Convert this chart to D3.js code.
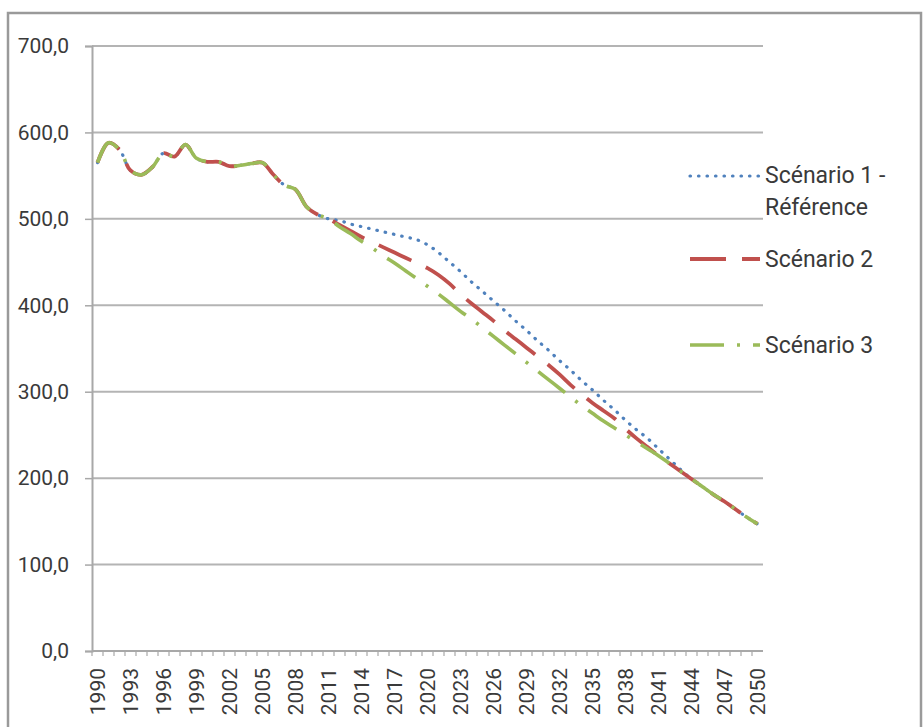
<!DOCTYPE html>
<html>
<head>
<meta charset="utf-8">
<script src="https://cdn.jsdelivr.net/npm/d3@7"></script>
<style>
  body { margin: 0; background: #fff; }
  text { font-family: Roboto, "Liberation Sans", sans-serif; fill: #3a3a3a; }
</style>
</head>
<body>
<script>
// categories
const years = [1990,1991,1992,1993,1994,1995,1996,1997,1998,1999,
               2000,2001,2002,2003,2004,2005,2006,2007,2008,2009,
               2010,2011,2012,2013,2014,2015,2016,2017,2018,2019,
               2020,2021,2022,2023,2024,2025,2026,2027,2028,2029,
               2030,2031,2032,2033,2034,2035,2036,2037,2038,2039,
               2040,2041,2042,2043,2044,2045,2046,2047,2048,2049,2050];
const yearLabels = [1990,1993,1996,1999,2002,2005,2008,2011,2014,2017,2020,
                    2023,2026,2029,2032,2035,2038,2041,2044,2047,2050];
const yTicks = [0,100,200,300,400,500,600,700];

// 1990-2010, common to all scenarios
const historique = [565,588,580,556,551,560,576,572,586,570,566,
                    566,561,562,564,565,551,539,534,514,505];
// 2011-2050
const scenario1 = [500,498,494,491,488,485,482,479,476,470,
                   461,450,439,427,416,405,394,382,371,359,
                   348,336,325,313,302,290,279,267,256,246,
                   234,222,210,199,190,181,173,164,155,147];
const scenario2 = [500,493,486,479,473,467,461,455,449,443,
                   435,425,413,402,392,382,371,361,351,341,
                   331,320,308,297,287,278,269,257,246,236,
                   226,217,208,199,190,181,173,164,155,147];
const scenario3 = [500,491,483,474,466,457,449,440,431,422,
                   413,403,393,384,374,364,354,344,334,324,
                   314,304,294,284,275,266,258,250,242,234,
                   226,217,208,199,190,181,173,164,155,147];

const seriesNames = ["Scénario 1 - Référence", "Scénario 2", "Scénario 3"];
const seriesColors = ["#4F81BD", "#C0504D", "#9BBB59"];

const w = 924;
const h = 727;
const plot = { left: 92, right: 763, top: 46, bottom: 651 };

const svg = d3.select("body")
              .append("svg")
              .attr("width", w)
              .attr("height", h);

// outer frame
svg.append("rect")
   .attr("x", 8).attr("y", 13)
   .attr("width", 913).attr("height", 730)
   .attr("fill", "none")
   .attr("stroke", "#9a9a9a")
   .attr("stroke-width", 2.5);

const x = d3.scaleBand()
            .domain(years)
            .range([plot.left, plot.right]);
const y = d3.scaleLinear()
            .domain([0, 700])
            .range([plot.bottom, plot.top]);
const cx = d => x(d) + x.bandwidth() / 2;

// gridlines
svg.append("g")
   .selectAll("line")
   .data(yTicks.filter(d => d > 0))
   .enter()
   .append("line")
   .attr("x1", plot.left).attr("x2", plot.right)
   .attr("y1", d => y(d)).attr("y2", d => y(d))
   .attr("stroke", "#b4b4b4")
   .attr("stroke-width", 2);

// y axis
const yAxis = d3.axisLeft(y)
                .tickValues(yTicks)
                .tickSize(7)
                .tickPadding(16)
                .tickFormat(d => d.toFixed(1).replace(".", ","));
const gy = svg.append("g")
              .attr("transform", "translate(" + plot.left + ",0)")
              .call(yAxis);
gy.select(".domain").attr("stroke", "#a8a8a8").attr("stroke-width", 2);
gy.selectAll(".tick line").attr("stroke", "#a8a8a8").attr("stroke-width", 1.5);
gy.selectAll(".tick text").attr("font-size", 21).attr("fill", "#3a3a3a")
  .style("font-family", "Roboto, sans-serif");

// x axis: line, ticks between categories, rotated labels
const gx = svg.append("g");
gx.append("line")
  .attr("x1", plot.left).attr("x2", plot.right)
  .attr("y1", plot.bottom).attr("y2", plot.bottom)
  .attr("stroke", "#a8a8a8").attr("stroke-width", 2);
gx.selectAll(".xtick")
  .data(years)
  .enter()
  .append("line")
  .classed("xtick", true)
  .attr("x1", d => x(d)).attr("x2", d => x(d))
  .attr("y1", plot.bottom).attr("y2", plot.bottom + 5)
  .attr("stroke", "#a8a8a8").attr("stroke-width", 1.2);
gx.selectAll(".xlabel")
  .data(yearLabels)
  .enter()
  .append("text")
  .classed("xlabel", true)
  .attr("transform", d => "translate(" + cx(d) + "," + (plot.bottom + 17) + ") rotate(-90)")
  .attr("dy", "0.36em")
  .attr("text-anchor", "end")
  .attr("font-size", 21)
  .text(d => d);

// series
const series = [scenario1, scenario2, scenario3].map((s, i) => ({
  name: seriesNames[i],
  color: seriesColors[i],
  values: historique.concat(s).map((v, j) => ({ year: years[j], value: v }))
}));
const dash = [
  { array: "0.5,8", cap: "round", width: 3.2 },
  { array: "36,16", cap: "butt", width: 3.8 },
  { array: "34,13,3,13", cap: "butt", width: 3.6 }
];

const line = d3.line()
               .x(d => cx(d.year))
               .y(d => y(d.value))
               .curve(d3.curveCatmullRom);

svg.append("g")
   .selectAll("path")
   .data(series)
   .enter()
   .append("path")
   .attr("d", d => line(d.values))
   .attr("fill", "none")
   .attr("stroke", d => d.color)
   .attr("stroke-width", (d, i) => dash[i].width)
   .attr("stroke-linecap", (d, i) => dash[i].cap)
   .attr("stroke-dasharray", (d, i) => dash[i].array);

// legend
const legendRows = [
  { lineY: 176, lines: ["Scénario 1 -", "Référence"], textY: 183 },
  { lineY: 259, lines: ["Scénario 2"], textY: 267 },
  { lineY: 345, lines: ["Scénario 3"], textY: 353 }
];
const legend = svg.append("g");
legendRows.forEach((r, i) => {
  legend.append("line")
        .attr("x1", 690).attr("x2", 760)
        .attr("y1", r.lineY).attr("y2", r.lineY)
        .attr("stroke", seriesColors[i])
        .attr("stroke-width", dash[i].width)
        .attr("stroke-linecap", dash[i].cap)
        .attr("stroke-dasharray", dash[i].array);
  r.lines.forEach((t, k) => {
    legend.append("text")
          .attr("x", 765)
          .attr("y", r.textY + k * 32)
          .attr("font-size", 23)
          .text(t);
  });
});
</script>
</body>
</html>
